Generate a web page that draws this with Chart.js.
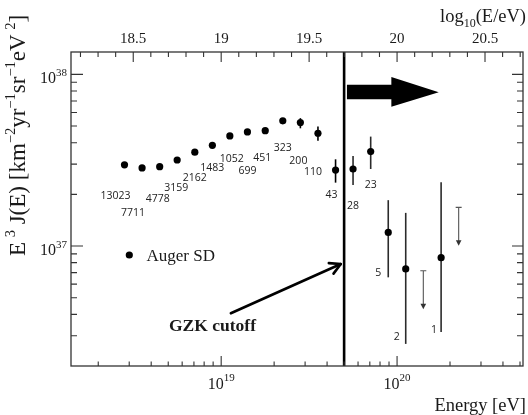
<!DOCTYPE html>
<html><head><meta charset="utf-8">
<script src="https://cdn.jsdelivr.net/npm/chart.js@4.4.1/dist/chart.umd.min.js"></script>
<style>html,body{margin:0;padding:0;background:#fff}canvas{display:block}</style>
</head><body>
<canvas id="c" width="528" height="415"></canvas>
<script>
// ---- data ----
const energies = [2.82e18, 3.55e18, 4.47e18, 5.62e18, 7.08e18, 8.91e18, 1.12e19, 1.41e19, 1.78e19, 2.24e19,
                  2.82e19, 3.55e19, 4.47e19, 5.62e19, 7.08e19, 8.91e19, 1.12e20, 1.41e20, 1.78e20, 2.24e20];
const flux     = [2.97e37, 2.85e37, 2.90e37, 3.17e37, 3.52e37, 3.86e37, 4.38e37, 4.62e37, 4.70e37, 5.36e37,
                  5.24e37, 4.54e37, 2.77e37, 2.81e37, 3.55e37, 1.20e37, 7.35e36, null, 8.55e36, null];
const fluxHigh = [3.00e37, 2.88e37, 2.93e37, 3.20e37, 3.56e37, 3.91e37, 4.45e37, 4.72e37, 4.84e37, 5.56e37,
                  5.56e37, 4.97e37, 3.20e37, 3.35e37, 4.34e37, 1.85e37, 1.56e37, null, 2.35e37, null];
const fluxLow  = [2.94e37, 2.82e37, 2.87e37, 3.14e37, 3.48e37, 3.81e37, 4.31e37, 4.52e37, 4.56e37, 5.17e37,
                  4.85e37, 4.11e37, 2.34e37, 2.27e37, 2.81e37, 6.57e36, 2.69e36, null, 3.16e36, null];
const upperLimits = [null, null, null, null, null, null, null, null, null, null,
                     null, null, null, null, null, null, null, 7.18e36, null, 1.68e37];
const eventCounts = ['13023','7711','4778','3159','2162','1483','1052','699','451','323',
                     '200','110','43','28','23','5','2',null,'1',null];
const gzkEnergy = 5e19;
const xMajorTicks = [1e19, 1e20];
const xMajorLabels = [['10','19'], ['10','20']];
const xMinorTicks = [2e18,3e18,4e18,5e18,6e18,7e18,8e18,9e18,2e19,3e19,4e19,5e19,6e19,7e19,8e19,9e19,2e20,3e20,4e20,5e20];
const yMajorTicks = [1e37, 1e38];
const yMajorLabels = [['10','37'], ['10','38']];
const yMinorTicks = [3e36,4e36,5e36,6e36,7e36,8e36,9e36,2e37,3e37,4e37,5e37,6e37,7e37,8e37,9e37];
const topMajorTicks = [18.5, 19, 19.5, 20, 20.5];
const topTickLabels = ['18.5', '19', '19.5', '20', '20.5'];
const topMinorTicks = [18.2,18.3,18.4,18.6,18.7,18.8,18.9,19.1,19.2,19.3,19.4,19.6,19.7,19.8,19.9,20.1,20.2,20.3,20.4,20.6,20.7];

// ---- label placement (pixel offsets from each point, styling only) ----
const labelOffsets = [[-9,31],[-9,45],[-2,32],[-1,28],[0,26],[0,23],[2,23],[0,39],[-3,27],[0,27],
                      [-2,38],[-5,39],[-4,25],[0,37],[0,33],[-10,41],[-9,68],null,[-7,72],null];

const SERIF = '"Liberation Serif", "Times New Roman", serif';

function drawRich(ctx, parts, x, y, align) {
  let w = 0;
  const ws = parts.map(p => { ctx.font = (p[3] ? 'bold ' : '') + p[1] + 'px ' + SERIF; const m = ctx.measureText(p[0]).width; w += m; return m; });
  let cx = align === 'right' ? x - w : align === 'center' ? x - w / 2 : x;
  ctx.textAlign = 'left';
  parts.forEach((p, i) => {
    ctx.font = (p[3] ? 'bold ' : '') + p[1] + 'px ' + SERIF;
    ctx.fillText(p[0], cx, y + (p[2] || 0));
    cx += ws[i];
  });
  return w;
}

const decor = {
  id: 'decor',
  beforeDatasetsDraw(chart) {
    const { ctx, scales: { x, y } } = chart;
    ctx.save();
    ctx.lineCap = 'butt';
    energies.forEach((e, i) => {
      const px = x.getPixelForValue(e);
      if (flux[i] != null) {
        ctx.strokeStyle = e > gzkEnergy ? '#2b2b2b' : '#000';
        ctx.lineWidth = 1.6;
        ctx.beginPath();
        ctx.moveTo(px, y.getPixelForValue(fluxHigh[i]));
        ctx.lineTo(px, y.getPixelForValue(fluxLow[i]));
        ctx.stroke();
      }
      if (upperLimits[i] != null) {
        const py = y.getPixelForValue(upperLimits[i]);
        ctx.strokeStyle = '#555'; ctx.fillStyle = '#333';
        ctx.lineWidth = 1.1;
        ctx.beginPath();
        ctx.moveTo(px - 3, py); ctx.lineTo(px + 3, py);
        ctx.moveTo(px, py); ctx.lineTo(px, py + 34);
        ctx.stroke();
        ctx.beginPath();
        ctx.moveTo(px - 2.8, py + 33); ctx.lineTo(px + 2.8, py + 33); ctx.lineTo(px, py + 38.5);
        ctx.closePath(); ctx.fill();
      }
    });
    ctx.restore();
  },
  afterDraw(chart) {
    const { ctx, chartArea: a, scales: { x, y } } = chart;
    ctx.save();
    const gx = x.getPixelForValue(gzkEnergy);
    ctx.strokeStyle = '#000'; ctx.lineWidth = 2.6;
    ctx.beginPath(); ctx.moveTo(gx, a.top); ctx.lineTo(gx, a.bottom); ctx.stroke();

    ctx.strokeStyle = '#333'; ctx.lineWidth = 1.3;
    ctx.strokeRect(a.left, a.top, a.right - a.left, a.bottom - a.top);

    ctx.lineWidth = 1.1; ctx.strokeStyle = '#333';
    ctx.beginPath();
    xMajorTicks.forEach(v => { const p = x.getPixelForValue(v); ctx.moveTo(p, a.bottom); ctx.lineTo(p, a.bottom - 10); });
    xMinorTicks.forEach(v => { const p = x.getPixelForValue(v); ctx.moveTo(p, a.bottom); ctx.lineTo(p, a.bottom - 4.5); });
    topMajorTicks.forEach(v => { const p = x.getPixelForValue(Math.pow(10, v)); ctx.moveTo(p, a.top); ctx.lineTo(p, a.top + 10); });
    topMinorTicks.forEach(v => { const p = x.getPixelForValue(Math.pow(10, v)); ctx.moveTo(p, a.top); ctx.lineTo(p, a.top + 5); });
    yMajorTicks.forEach(v => { const p = y.getPixelForValue(v);
      ctx.moveTo(a.left, p); ctx.lineTo(a.left + 12, p); ctx.moveTo(a.right, p); ctx.lineTo(a.right - 11, p); });
    yMinorTicks.forEach(v => { const p = y.getPixelForValue(v);
      ctx.moveTo(a.left, p); ctx.lineTo(a.left + 6, p); ctx.moveTo(a.right, p); ctx.lineTo(a.right - 6, p); });
    ctx.stroke();

    ctx.fillStyle = '#1a1a1a';
    ctx.textBaseline = 'alphabetic';
    xMajorTicks.forEach((v, i) => {
      const p = x.getPixelForValue(v);
      drawRich(ctx, [[xMajorLabels[i][0], 16, 0], [xMajorLabels[i][1], 11, -8]], p, 389, 'center');
    });
    yMajorTicks.forEach((v, i) => {
      const p = y.getPixelForValue(v);
      drawRich(ctx, [[yMajorLabels[i][0], 16, 0], [yMajorLabels[i][1], 11, -7]], a.left - 4, p + 9, 'right');
    });
    topMajorTicks.forEach((v, i) => {
      const p = x.getPixelForValue(Math.pow(10, v));
      drawRich(ctx, [[topTickLabels[i], 15, 0]], p, 43, 'center');
    });
    drawRich(ctx, [['Energy [eV]', 18.5, 0]], 526, 411, 'right');
    drawRich(ctx, [['log', 18.5, 0], ['10', 12, 5], ['(E/eV)', 18.5, 0]], 526, 22, 'right');
    ctx.save();
    ctx.translate(25, 256);
    ctx.rotate(-Math.PI / 2);
    drawRich(ctx, [['E', 23, 0], ['\u2009', 23, 0], ['3', 14.5, -10], [' J(E) [km', 23, 0], ['\u22122', 14.5, -10],
                   ['yr', 23, 0], ['\u22121', 14.5, -10], ['sr', 23, 0], ['\u22121', 14.5, -10], ['eV', 23, 0],
                   ['\u2009', 23, 0], ['2', 14.5, -10], [']', 23, 0]], 0, 0, 'left');
    ctx.restore();

    ctx.font = '10.5px "Open Sans", "DejaVu Sans", sans-serif';
    ctx.textAlign = 'center'; ctx.textBaseline = 'middle'; ctx.fillStyle = '#222';
    energies.forEach((e, i) => {
      if (eventCounts[i] == null || flux[i] == null) return;
      const px = x.getPixelForValue(e), py = y.getPixelForValue(flux[i]);
      ctx.fillText(eventCounts[i], px + labelOffsets[i][0], py + labelOffsets[i][1]);
    });

    ctx.fillStyle = '#000';
    ctx.beginPath(); ctx.arc(129.3, 255, 3.6, 0, Math.PI * 2); ctx.fill();
    ctx.textBaseline = 'alphabetic';
    ctx.fillStyle = '#1a1a1a';
    drawRich(ctx, [['Auger SD', 17, 0]], 146.5, 261, 'left');

    drawRich(ctx, [['GZK cutoff', 17.5, 0, true]], 212.5, 331, 'center');
    const P = (le, lf) => [x.getPixelForValue(Math.pow(10, le)), y.getPixelForValue(Math.pow(10, lf))];
    const s = P(19.055, 36.608), t = P(19.68, 36.895);
    ctx.strokeStyle = '#000'; ctx.lineWidth = 2.6; ctx.lineCap = 'round';
    ctx.beginPath(); ctx.moveTo(s[0], s[1]); ctx.lineTo(t[0], t[1]); ctx.stroke();
    const ang = Math.atan2(t[1] - s[1], t[0] - s[0]);
    ctx.beginPath();
    [0.5, -0.5].forEach(d => {
      ctx.moveTo(t[0], t[1]);
      ctx.lineTo(t[0] - 12 * Math.cos(ang + d), t[1] - 12 * Math.sin(ang + d));
    });
    ctx.stroke();

    const pts = [P(19.715, 37.939), P(19.9675, 37.939), P(19.9675, 37.984), P(20.237, 37.896),
                 P(19.9675, 37.812), P(19.9675, 37.855), P(19.715, 37.855)];
    ctx.fillStyle = '#000';
    ctx.beginPath();
    pts.forEach((p, i) => i ? ctx.lineTo(p[0], p[1]) : ctx.moveTo(p[0], p[1]));
    ctx.closePath(); ctx.fill();
    ctx.restore();
  }
};

new Chart(document.getElementById('c'), {
  type: 'scatter',
  data: {
    datasets: [{
      label: 'Auger SD',
      data: energies.map((e, i) => ({ x: e, y: flux[i] })).filter(p => p.y != null),
      pointRadius: 3.6, pointHoverRadius: 3.6,
      backgroundColor: '#000', borderColor: '#000', borderWidth: 0
    }]
  },
  options: {
    responsive: false, animation: false, devicePixelRatio: 1,
    layout: { padding: { left: 71, top: 52, right: 5, bottom: 49 } },
    plugins: { legend: { display: false }, tooltip: { enabled: false } },
    scales: {
      x: { type: 'logarithmic', min: 1.4e18, max: 5.2e20, display: false },
      y: { type: 'logarithmic', min: 2e36, max: 1.35e38, display: false }
    }
  },
  plugins: [decor]
});
</script>
</body></html>
